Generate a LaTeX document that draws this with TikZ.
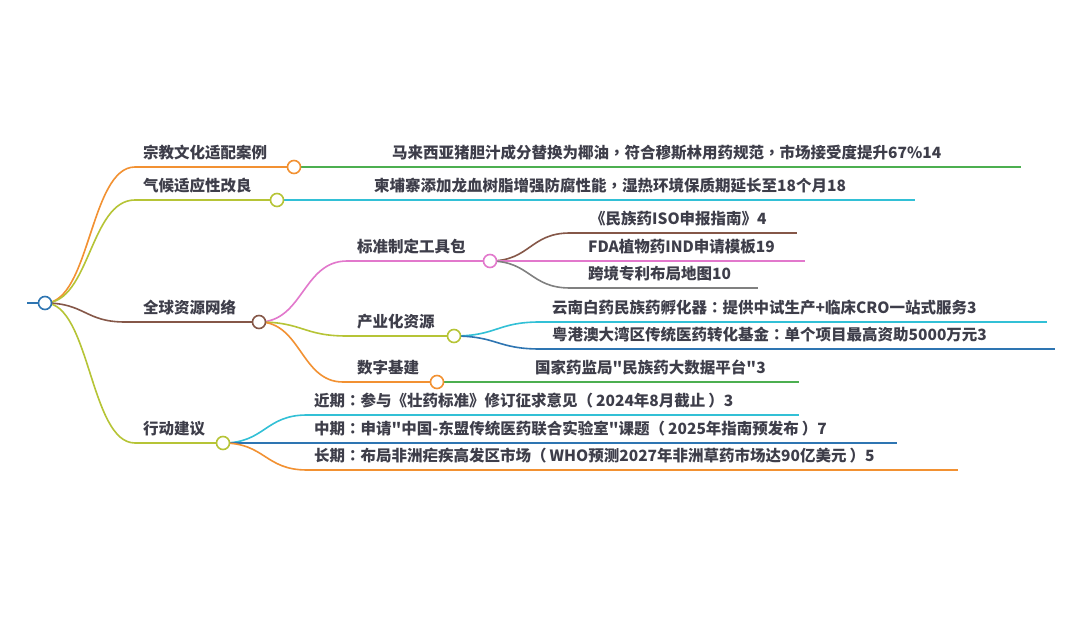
\documentclass[tikz,border=0pt]{standalone}
\usepackage{fontspec}
\newfontfamily\cjk{Noto Sans CJK SC}
\newfontfamily\tcf{Noto Sans CJK TC}
\usetikzlibrary{calc}
\definecolor{corange}{RGB}{242,145,50}
\definecolor{cgreen}{RGB}{76,175,80}
\definecolor{cyg}{RGB}{182,196,54}
\definecolor{ccyan}{RGB}{50,192,214}
\definecolor{cbrown}{RGB}{133,87,72}
\definecolor{cpink}{RGB}{226,120,204}
\definecolor{cgray}{RGB}{128,128,128}
\definecolor{cblue}{RGB}{46,117,178}
\definecolor{ctext}{RGB}{62,62,74}
\tikzset{
  dotnode/.style={circle,draw=#1,fill=white,line width=1.6pt,minimum size=13pt,inner sep=0pt},
  ln/.style={draw=#1,line width=1.6pt},
  lbl/.style={anchor=base west,inner sep=0pt,text=ctext,font=\cjk\fontsize{15.5}{18}\selectfont\bfseries},
}
\newcommand{\cur}[3]{\draw[ln=#1] let \p1=(#2), \p2=(#3) in (\p1) .. controls ({(\x1+\x2)/2},\y1) and ({(\x1+\x2)/2},\y2) .. (\p2);}
\newcommand{\zcolon}{{\tcf ：}}
\newcommand{\zcomma}{{\tcf ，}}
\newcommand{\zlp}{{\tcf （}\hspace{3pt}}
\newcommand{\zrp}{\hspace{3pt}{\tcf ）}}
\begin{document}
\begin{tikzpicture}[x=1pt,y=-1pt]
\useasboundingbox[fill=white] (0,0) rectangle (1080,617);
% coordinates
\coordinate (rs) at (27,303);
\coordinate (h1) at (135,167);
\coordinate (e1) at (1021,167);
\coordinate (h2) at (135,200);
\coordinate (e2) at (915,200);
\coordinate (h3) at (125,322);
\coordinate (hb1) at (347,261);
\coordinate (hb2) at (347,336);
\coordinate (hb3) at (343,382);
\coordinate (h4) at (135,443);
\coordinate (l1s) at (570,233);\coordinate (l1e) at (797,233);
\coordinate (l2e) at (805,261);
\coordinate (l3s) at (570,288);\coordinate (l3e) at (758,288);
\coordinate (l4s) at (540,322);\coordinate (l4e) at (1047,322);
\coordinate (l5s) at (540,349);\coordinate (l5e) at (1055,349);
\coordinate (l6e) at (799,382);
\coordinate (l7s) at (307,415);\coordinate (l7e) at (799,415);
\coordinate (l8e) at (897,443);
\coordinate (l9s) at (307,470);\coordinate (l9e) at (958,470);
% circle positions
\coordinate (pR) at (45,303);
\coordinate (p1) at (294,167);
\coordinate (p2) at (277,200);
\coordinate (p3) at (259,322);
\coordinate (pb1) at (490,261);
\coordinate (pb2) at (454,336);
\coordinate (pb3) at (437,382);
\coordinate (p4) at (223,443);
% lines
\draw[ln=cblue] (rs) -- (pR);
\cur{corange}{pR}{h1}
\draw[ln=corange] (h1) -- (p1);
\draw[ln=cgreen] (p1) -- (e1);
\cur{cyg}{pR}{h2}
\draw[ln=cyg] (h2) -- (p2);
\draw[ln=ccyan] (p2) -- (e2);
\cur{cbrown}{pR}{h3}
\draw[ln=cbrown] (h3) -- (p3);
\cur{cyg}{pR}{h4}
\draw[ln=cyg] (h4) -- (p4);
\cur{cpink}{p3}{hb1}
\draw[ln=cpink] (hb1) -- (pb1);
\cur{cyg}{p3}{hb2}
\draw[ln=cyg] (hb2) -- (pb2);
\cur{corange}{p3}{hb3}
\draw[ln=corange] (hb3) -- (pb3);
\cur{cbrown}{pb1}{l1s}
\draw[ln=cbrown] (l1s) -- (l1e);
\draw[ln=cpink] (pb1) -- (l2e);
\cur{cgray}{pb1}{l3s}
\draw[ln=cgray] (l3s) -- (l3e);
\cur{ccyan}{pb2}{l4s}
\draw[ln=ccyan] (l4s) -- (l4e);
\cur{cblue}{pb2}{l5s}
\draw[ln=cblue] (l5s) -- (l5e);
\draw[ln=cgreen] (pb3) -- (l6e);
\cur{ccyan}{p4}{l7s}
\draw[ln=ccyan] (l7s) -- (l7e);
\draw[ln=cblue] (p4) -- (l8e);
\cur{corange}{p4}{l9s}
\draw[ln=corange] (l9s) -- (l9e);
% circles
\node[dotnode=cblue] (root) at (pR) {};
\node[dotnode=corange] (n1) at (p1) {};
\node[dotnode=cyg] (n2) at (p2) {};
\node[dotnode=cbrown] (n3) at (p3) {};
\node[dotnode=cpink] (nb1) at (pb1) {};
\node[dotnode=cyg] (nb2) at (pb2) {};
\node[dotnode=corange] (nb3) at (pb3) {};
\node[dotnode=cyg] (n4) at (p4) {};
% labels
\node[lbl] (t1) at (143,159) {宗教文化适配案例};
\node[lbl] (t2) at (143,192) {气候适应性改良};
\node[lbl] (t3) at (143,314) {全球资源网络};
\node[lbl] (t4) at (143,435) {行动建议};
\node[lbl] (tb1) at (357,253) {标准制定工具包};
\node[lbl] (tb2) at (357,328) {产业化资源};
\node[lbl] (tb3) at (357,374) {数字基建};
\node[lbl] (x1) at (392,159) {马来西亚猪胆汁成分替换为椰油\zcomma 符合穆斯林用药规范\zcomma 市场接受度提升67\%14};
\node[lbl] (x2) at (374,192) {柬埔寨添加龙血树脂增强防腐性能\zcomma 湿热环境保质期延长至18个月18};
\node[lbl] (x3) at (590,225) {《民族药ISO申报指南》4};
\node[lbl] (x4) at (588,253) {FDA植物药IND申请模板19};
\node[lbl] (x5) at (588,280) {跨境专利布局地图10};
\node[lbl] (x6) at (552,314) {云南白药民族药孵化器\zcolon 提供中试生产+临床CRO一站式服务3};
\node[lbl] (x7) at (552,341) {粤港澳大湾区传统医药转化基金\zcolon 单个项目最高资助5000万元3};
\node[lbl] (x8) at (535,374) {国家药监局"民族药大数据平台"3};
\node[lbl] (x9) at (314,407) {近期\zcolon 参与《壮药标准》修订征求意见\zlp 2024年8月截止\zrp 3};
\node[lbl] (x10) at (314,435) {中期\zcolon 申请"中国-东盟传统医药联合实验室"课题\zlp 2025年指南预发布\zrp 7};
\node[lbl] (x11) at (314,462) {长期\zcolon 布局非洲疟疾高发区市场\zlp WHO预测2027年非洲草药市场达90亿美元\zrp 5};
\end{tikzpicture}
\end{document}
